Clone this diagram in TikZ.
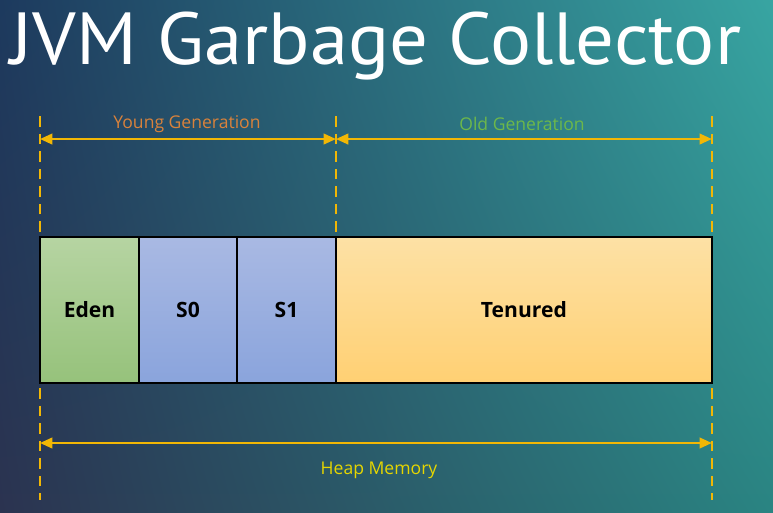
\documentclass[tikz,border=0pt]{standalone}
\usepackage{fontspec}
\setmainfont{Open Sans}
\newfontfamily\titlefont{PT Sans}
\usetikzlibrary{positioning}
\usetikzlibrary{arrows.meta}
\usetikzlibrary{shadings}

\definecolor{bgtl}{HTML}{1D3A5E}
\definecolor{bgtr}{HTML}{38A5A2}
\definecolor{bgbl}{HTML}{2B3350}
\definecolor{bgbr}{HTML}{2A8482}
\definecolor{guidegold}{HTML}{F2B705}
\definecolor{youngtxt}{HTML}{D9823B}
\definecolor{oldtxt}{HTML}{6DB84A}
\definecolor{heaptxt}{HTML}{E6D600}
\definecolor{edentop}{HTML}{B6D4A2}
\definecolor{edenbot}{HTML}{96C27B}
\definecolor{survtop}{HTML}{A9B9E3}
\definecolor{survbot}{HTML}{8AA4DC}
\definecolor{tenutop}{HTML}{FDE1A5}
\definecolor{tenubot}{HTML}{FFD073}

\begin{document}
\begin{tikzpicture}[x=0.02cm, y=-0.02cm,
    area/.style={rectangle, draw=black, line width=1.2pt, minimum width=#1, minimum height=2.92cm,
      inner sep=0pt, outer sep=0pt, text=black, font=\bfseries\fontsize{12}{14}\selectfont},
    guide/.style={guidegold, line width=1.1pt, dash pattern=on 6pt off 4pt},
    dimarrow/.style={{Triangle[length=7pt, width=6pt]}-{Triangle[length=7pt, width=6pt]}, guidegold, line width=1.3pt},
    dimlabel/.style={inner sep=0pt, font=\fontsize{10}{12}\selectfont}]

    % Background
    \shade[upper left=bgtl, upper right=bgtr, lower left=bgbl, lower right=bgbr] (0,0) rectangle (773,512);

    % Title
    \node[anchor=base west, inner sep=0pt, xscale=1.04, text=white, font=\titlefont\fontsize{42}{50}\selectfont] (title) at (10,64) {JVM Garbage Collector};

    % Nodes
    \node[area=1.98cm, top color=edentop, bottom color=edenbot] (eden) at (89.5,310) {Eden};
    \node[area=1.96cm, top color=survtop, bottom color=survbot, right=0pt of eden] (s0) {S0};
    \node[area=1.98cm, top color=survtop, bottom color=survbot, right=0pt of s0] (s1) {S1};
    \node[area=7.52cm, top color=tenutop, bottom color=tenubot, right=0pt of s1] (tenured) {Tenured};

    % Arrow ends
    \path (eden.north west) ++(0,-98) coordinate (ya);
    \path (s1.north east) ++(0,-98) coordinate (yb);
    \path (tenured.north east) ++(0,-98) coordinate (yc);
    \path (eden.south west) ++(0,60) coordinate (ha);
    \path (tenured.south east) ++(0,60) coordinate (hb);

    % Guides
    \foreach \anc in {eden.north west, s1.north east, tenured.north east}
      \draw[guide] (\anc) ++(0,-5) -- ++(0,-117);
    \foreach \anc in {eden.south west, tenured.south east}
      \draw[guide] (\anc) ++(0,5) -- ++(0,112);

    % Dimensions
    \draw[dimarrow] (ya) -- (yb);
    \draw[dimarrow] (yb) -- (yc);
    \draw[dimarrow] (ha) -- (hb);
    \node[dimlabel, text=youngtxt] (younglbl) at (187,124) {Young Generation};
    \node[dimlabel, text=oldtxt] (oldlbl) at (522,124) {Old Generation};
    \node[dimlabel, text=heaptxt] (heaplbl) at (379,470) {Heap Memory};

\end{tikzpicture}
\end{document}
